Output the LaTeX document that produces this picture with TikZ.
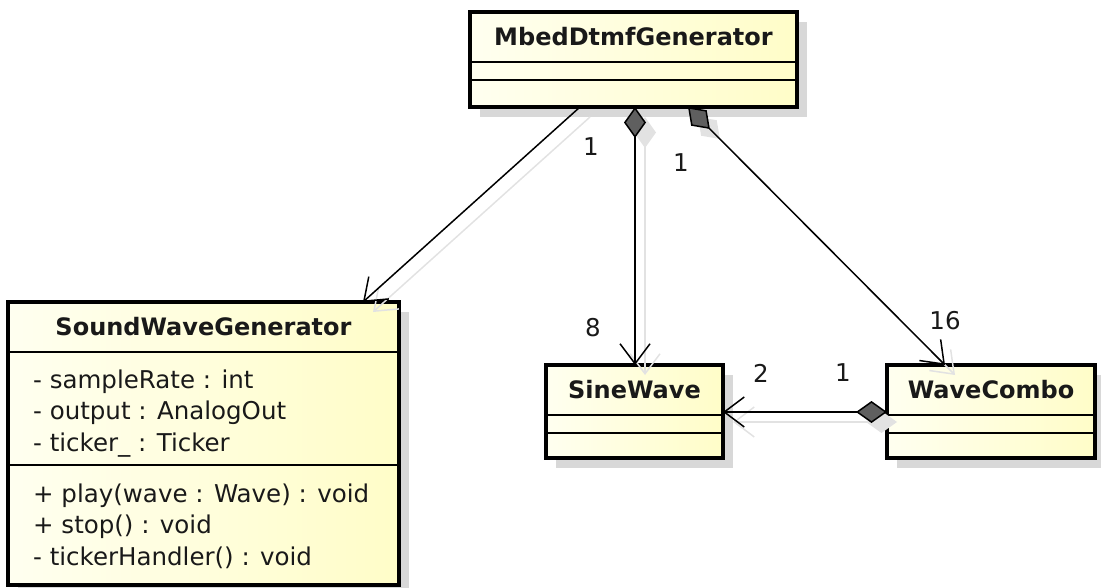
\documentclass[tikz,border=0pt]{standalone}
\usepackage{fontspec}
\setmainfont{DejaVu Sans}
\usetikzlibrary{arrows.meta,shadows}
\definecolor{boxL}{RGB}{255,255,240}
\definecolor{boxR}{RGB}{255,253,200}
\definecolor{shade}{RGB}{216,216,216}
\definecolor{cshade}{RGB}{226,226,226}
\definecolor{dia}{RGB}{95,95,95}
\definecolor{txt}{RGB}{25,25,25}
\begin{document}
\begin{tikzpicture}[x=1pt,y=-1pt,
  classbox/.style={draw=black, line width=3.5pt, left color=boxL, right color=boxR,
    anchor=north west, inner sep=0pt, outer sep=0pt,
    drop shadow={shadow xshift=10pt, shadow yshift=-10pt, fill=shade, opacity=1}},
  sepline/.style={line width=1.3pt},
  title/.style={font=\fontsize{24}{28}\selectfont\bfseries, text=txt, inner sep=0pt},
  member/.style={font=\fontsize{24.5}{28}\selectfont, text=txt, inner sep=0pt, anchor=base west},
  mult/.style={font=\fontsize{24.5}{28}\selectfont, text=txt, inner sep=0pt},
  assoc/.style={line width=1.5pt, -{Straight Barb[length=20pt,width=30pt]}},
  comp/.style={line width=1.5pt, {Diamond[length=31pt,width=22pt,fill=dia]}-{Straight Barb[length=20pt,width=30pt]}},
  sassoc/.style={draw=cshade, line width=1.5pt, -{Straight Barb[length=20pt,width=30pt]},
    transform canvas={shift={(10pt,-10pt)}}},
  scomp/.style={draw=cshade, line width=1.5pt, {Diamond[length=31pt,width=22pt,fill=cshade]}-{Straight Barb[length=20pt,width=30pt]},
    transform canvas={shift={(10pt,-10pt)}}},
]
\useasboundingbox (0,0) rectangle (1101,588);

% ---- classes ----
\node[classbox, minimum width=327pt, minimum height=95pt] (mbed) at (470,12) {};
\draw[sepline] (mbed.west |- 0,62) -- (mbed.east |- 0,62);
\draw[sepline] (mbed.west |- 0,80) -- (mbed.east |- 0,80);
\node[title] (mbedT) at (633.5,37) {MbedDtmfGenerator};

\node[classbox, minimum width=391pt, minimum height=283pt] (swg) at (8,302) {};
\draw[sepline] (swg.west |- 0,352) -- (swg.east |- 0,352);
\draw[sepline] (swg.west |- 0,465) -- (swg.east |- 0,465);
\node[title] (swgT) at (203.5,327) {SoundWaveGenerator};
\node[member] (a1) at (33,388) {- sampleRate : int};
\node[member] (a2) at (33,419.5) {- output : AnalogOut};
\node[member] (a3) at (33,451) {- ticker\_ : Ticker};
\node[member] (o1) at (33,502) {+ play(wave : Wave) : void};
\node[member] (o2) at (33,533.5) {+ stop() : void};
\node[member] (o3) at (33,565) {- tickerHandler() : void};

\node[classbox, minimum width=177pt, minimum height=93pt] (sine) at (546,365) {};
\draw[sepline] (sine.west |- 0,415) -- (sine.east |- 0,415);
\draw[sepline] (sine.west |- 0,433) -- (sine.east |- 0,433);
\node[title] (sineT) at (634.5,390) {SineWave};

\node[classbox, minimum width=208pt, minimum height=93pt] (combo) at (887,365) {};
\draw[sepline] (combo.west |- 0,415) -- (combo.east |- 0,415);
\draw[sepline] (combo.west |- 0,433) -- (combo.east |- 0,433);
\node[title] (comboT) at (991,390) {WaveCombo};

% ---- connector end points ----
\coordinate (mA) at (mbed.south -| 580,0);
\coordinate (mB) at (mbed.south -| 635,0);
\coordinate (mC) at (mbed.south -| 688,0);
\coordinate (sA) at (swg.north -| 363,0);
\coordinate (sB) at (sine.north -| 635,0);
\coordinate (cC) at (combo.north -| 945,0);
\coordinate (cD) at (combo.west |- 0,412);
\coordinate (sD) at (sine.east |- 0,412);

% ---- connector shadows ----
\draw[sassoc] (mA) -- (sA);
\draw[scomp] (mB) -- (sB);
\draw[scomp] (mC) -- (cC);
\draw[scomp] (cD) -- (sD);

% ---- connectors ----
\draw[assoc] (mA) -- (sA);
\draw[comp] (mB) -- (sB);
\draw[comp] (mC) -- (cC);
\draw[comp] (cD) -- (sD);

% ---- multiplicities ----
\node[mult] (l1) at (591,147) {1};
\node[mult] (l2) at (681,163) {1};
\node[mult] (l3) at (593,328) {8};
\node[mult] (l4) at (945,321) {16};
\node[mult] (l5) at (761,373) {2};
\node[mult] (l6) at (843,373) {1};
\end{tikzpicture}
\end{document}
